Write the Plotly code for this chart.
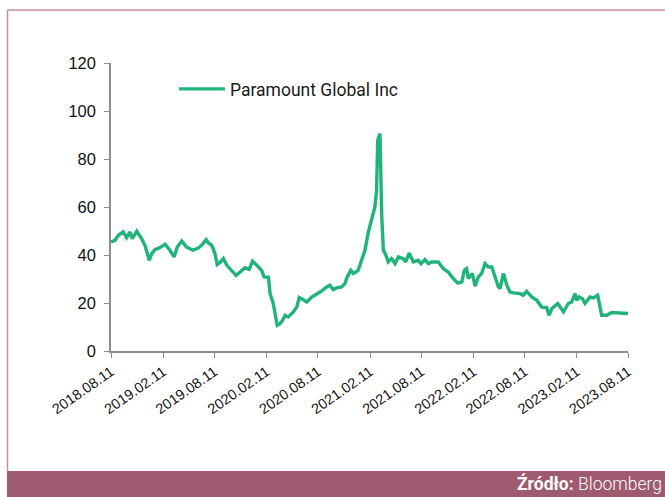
import plotly.graph_objects as go

dates = [
    "2018-08-11", "2018-08-25", "2018-09-06", "2018-09-23", "2018-10-05", "2018-10-17",
    "2018-10-25", "2018-11-10", "2018-11-27", "2018-12-09", "2018-12-24", "2019-01-02",
    "2019-01-13", "2019-01-31", "2019-02-18", "2019-03-07", "2019-03-22", "2019-04-02",
    "2019-04-18", "2019-05-05", "2019-05-27", "2019-06-15", "2019-06-27", "2019-07-13",
    "2019-07-21", "2019-08-02", "2019-08-13", "2019-08-21", "2019-09-02", "2019-09-12",
    "2019-09-24", "2019-10-11", "2019-10-27", "2019-11-10", "2019-11-27", "2019-12-12",
    "2019-12-24", "2020-01-08", "2020-01-25", "2020-02-03", "2020-02-18", "2020-02-24",
    "2020-03-06", "2020-03-20", "2020-03-30", "2020-04-08", "2020-04-17", "2020-04-28",
    "2020-05-16", "2020-05-28", "2020-06-06", "2020-06-20", "2020-07-02", "2020-07-20",
    "2020-08-06", "2020-08-24", "2020-09-11", "2020-09-22", "2020-10-04", "2020-10-18",
    "2020-11-03", "2020-11-14", "2020-11-23", "2020-12-05", "2020-12-14", "2020-12-31",
    "2021-01-12", "2021-01-24", "2021-02-05", "2021-02-17", "2021-02-28", "2021-03-06",
    "2021-03-10", "2021-03-18", "2021-03-24", "2021-03-30", "2021-04-08", "2021-04-16",
    "2021-04-28", "2021-05-10", "2021-05-22", "2021-06-08", "2021-06-17", "2021-06-29",
    "2021-07-14", "2021-07-31", "2021-08-10", "2021-08-24", "2021-09-05", "2021-09-17",
    "2021-10-10", "2021-10-28", "2021-11-14", "2021-12-02", "2021-12-18", "2022-01-01",
    "2022-01-10", "2022-01-18", "2022-01-24", "2022-02-07", "2022-02-17", "2022-02-28",
    "2022-03-12", "2022-03-24", "2022-04-05", "2022-04-17", "2022-04-28", "2022-05-10",
    "2022-05-16", "2022-05-28", "2022-06-09", "2022-06-20", "2022-07-02", "2022-07-26",
    "2022-08-06", "2022-08-18", "2022-09-05", "2022-09-23", "2022-10-10", "2022-10-28",
    "2022-11-05", "2022-11-15", "2022-12-06", "2022-12-26", "2023-01-12", "2023-01-24",
    "2023-02-05", "2023-02-11", "2023-02-19", "2023-03-03", "2023-03-12", "2023-03-30",
    "2023-04-11", "2023-04-26", "2023-05-10", "2023-05-28", "2023-06-14", "2023-07-02",
    "2023-07-14", "2023-07-31", "2023-08-11",
]

prices = [
    45.4, 46.1, 48.2, 49.6, 47.2, 49.6,
    46.8, 49.9, 46.8, 44.0, 37.8, 40.6,
    42.2, 43.1, 44.5, 42.0, 39.2, 43.3,
    45.8, 43.3, 42.0, 42.9, 44.0, 46.4,
    45.0, 44.0, 40.6, 36.0, 37.1, 38.5,
    35.7, 33.3, 31.5, 32.9, 34.7, 34.0,
    37.4, 35.7, 33.6, 30.8, 30.8, 23.9,
    19.8, 10.7, 11.4, 12.8, 14.9, 14.2,
    16.3, 18.3, 22.3, 21.4, 20.4, 22.5,
    23.6, 25.0, 26.7, 27.4, 25.6, 26.4,
    26.7, 28.1, 31.1, 33.6, 32.3, 33.6,
    37.8, 42.0, 49.6, 54.5, 60.0, 67.0,
    87.8, 90.6, 57.0, 42.0, 39.9, 37.1,
    38.5, 36.4, 39.2, 38.5, 37.1, 40.8,
    37.1, 37.8, 36.4, 38.1, 36.4, 37.1,
    37.1, 34.3, 32.9, 30.2, 28.3, 28.8,
    33.6, 34.3, 30.2, 32.3, 27.0, 30.8,
    32.3, 36.4, 35.0, 35.0, 30.8, 26.7,
    26.0, 32.3, 27.4, 24.6, 24.2, 23.9,
    23.2, 24.9, 22.5, 21.1, 18.3, 18.1,
    14.9, 17.7, 19.8, 16.3, 19.8, 20.4,
    23.9, 21.1, 22.5, 21.8, 19.8, 22.5,
    22.1, 23.2, 14.9, 14.9, 16.0, 15.8,
    16.0, 15.6, 15.6,
]

tick_dates = ["2018-08-11", "2019-02-11", "2019-08-11", "2020-02-11", "2020-08-11",
              "2021-02-11", "2021-08-11", "2022-02-11", "2022-08-11", "2023-02-11",
              "2023-08-11"]
tick_labels = ["2018.08.11", "2019.02.11", "2019.08.11", "2020.02.11", "2020.08.11",
               "2021.02.11", "2021.08.11", "2022.02.11", "2022.08.11", "2023.02.11",
               "2023.08.11"]

series_name = "Paramount Global Inc"
source_bold = "Źródło:"
source_text = "Bloomberg"

GREEN = "#21b47a"
FRAME = "#c4909f"
BAND = "#9e5a6e"
AXIS = "#8c8c8c"

fig = go.Figure()
fig.add_trace(go.Scatter(
    x=dates, y=prices, mode="lines", name=series_name,
    line=dict(color=GREEN, width=3.4), showlegend=True,
))

W, H = 665, 497
L, R, T, B = 111, 37, 63, 146
pw, ph = W - L - R, H - T - B

def px(xp):
    return (xp - L) / pw

def py(yp):
    return (H - B - yp) / ph

fig.update_layout(
    width=W, height=H,
    margin=dict(l=L, r=R, t=T, b=B),
    paper_bgcolor="white", plot_bgcolor="white",
    showlegend=True,
    legend=dict(x=px(174), y=py(71), xanchor="left", yanchor="top",
                font=dict(family="Roboto", size=17.5, color="#1a1a1a"),
                bgcolor="rgba(0,0,0,0)", itemwidth=46),
    xaxis=dict(
        type="date", range=["2018-08-11", "2023-08-11"],
        tickmode="array", tickvals=tick_dates, ticktext=tick_labels,
        tickangle=-35, ticks="outside", ticklen=5, tickcolor=AXIS, tickwidth=1,
        showline=True, linecolor=AXIS, linewidth=1.5, showgrid=False, zeroline=False,
        tickfont=dict(family="Liberation Sans", size=14.5, color="#111111"),
    ),
    yaxis=dict(
        range=[0, 120], dtick=20, tick0=0,
        ticks="outside", ticklen=5, tickcolor=AXIS, tickwidth=1,
        showline=True, linecolor=AXIS, linewidth=1.5, showgrid=False, zeroline=False,
        tickfont=dict(family="Liberation Sans", size=16.5, color="#111111"),
        ticklabelstandoff=5,
    ),
    shapes=[
        dict(type="line", xref="paper", yref="paper", x0=px(7.5), x1=px(700),
             y0=py(10), y1=py(10), line=dict(color=FRAME, width=1.5)),
        dict(type="line", xref="paper", yref="paper", x0=px(7.5), x1=px(7.5),
             y0=py(10), y1=py(471), line=dict(color=FRAME, width=1.5)),
        dict(type="rect", xref="paper", yref="paper", x0=px(7), x1=px(700),
             y0=py(471), y1=py(520), fillcolor=BAND, line=dict(width=0), layer="above"),
    ],
    annotations=[
        dict(xref="paper", yref="paper", x=px(664), y=py(483), xanchor="right",
             yanchor="middle", showarrow=False,
             text=f"<b>{source_bold}</b> <span style='font-weight:300'>{source_text}</span>",
             font=dict(family="Roboto", size=17.5, color="white")),
    ],
)

fig.write_html("out.html", config={"displayModeBar": False},
               post_script="document.body.style.margin='0';")
